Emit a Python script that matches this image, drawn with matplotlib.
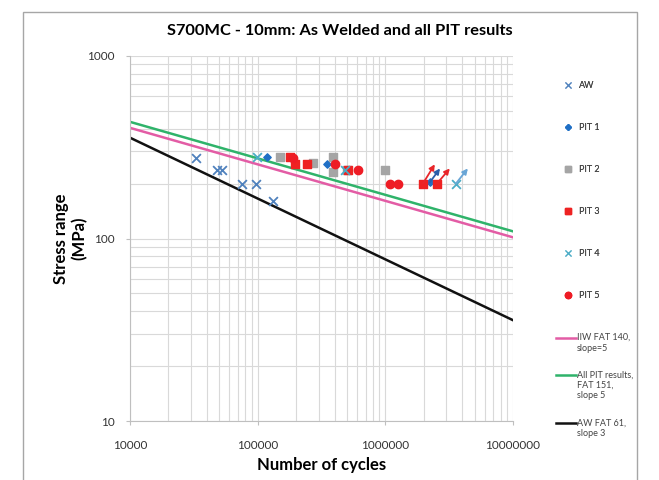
import numpy as np
import matplotlib
matplotlib.use("Agg")
import matplotlib.pyplot as plt
from matplotlib.lines import Line2D
from matplotlib.patches import Rectangle
from matplotlib.legend_handler import HandlerLine2D

plt.rcParams["font.family"] = ["Lato", "DejaVu Sans"]

# ── data ──────────────────────────────────────────────────────────────────────
aw_n = [32900, 47700, 52300, 75000, 97000, 132000]
aw_s = [275, 236, 236, 198, 198, 160]

pit1_n = [117500, 347000, 2230000]
pit1_s = [278, 257, 203]

pit2_n = [150000, 271000, 389000, 389000, 500000, 993000]
pit2_s = [280, 258, 280, 231, 236, 236]

pit3_n = [179000, 195000, 242000, 510000, 1970000, 2540000]
pit3_s = [280, 257, 257, 236, 200, 200]

pit4_n = [98000, 483000, 3570000]
pit4_s = [278, 236, 200]

pit5_n = [189000, 403000, 610000, 1090000, 1260000]
pit5_s = [275, 257, 236, 198, 198]

# run-out arrows: start and end (N, S)
arrow_start_n = [1970000, 2230000, 2540000, 3570000]
arrow_start_s = [200, 203, 200, 200]
arrow_end_n   = [2440000, 2680000, 3200000, 4430000]
arrow_end_s   = [255, 242, 242, 242]
arrow_colors  = ["#e8262a", "#2a5ea8", "#e8262a", "#6aa6d6"]

# design curves: FAT class, slope
fat_vals   = [140, 151, 61]
fat_slopes = [5, 5, 3]
fat_colors = ["#e35ca5", "#2fb36a", "#111111"]
fat_labels = ["IIW FAT 140,\nslope=5", "All PIT results,\nFAT 151,\nslope 5",
              "AW FAT 61,\nslope 3"]

xticks = [1e4, 1e5, 1e6, 1e7]
xtick_labels = ["10000", "100000", "1000000", "10000000"]
yticks = [10, 100, 1000]
ytick_labels = ["10", "100", "1000"]


class TopLineHandler(HandlerLine2D):
    """Legend line drawn level with the first text line (Excel style)."""
    def __init__(self, nlines, **kw):
        super().__init__(**kw)
        self.shift = (nlines - 1) * 4.0

    def create_artists(self, legend, orig_handle, xdescent, ydescent,
                       width, height, fontsize, trans):
        return super().create_artists(legend, orig_handle, xdescent,
                                      ydescent - 2 * self.shift, width,
                                      height, fontsize, trans)


# ── figure ────────────────────────────────────────────────────────────────────
fig = plt.figure(figsize=(6.59, 4.8), dpi=100)
fig.patches.append(Rectangle((23 / 659, -0.02), 614 / 659, 1 - 12 / 480 + 0.02,
                             transform=fig.transFigure, fill=False,
                             edgecolor="#a6a6a6", lw=1.0))
ax = fig.add_axes([130 / 659, 1 - 421 / 480, 383 / 659, 365 / 480])
ax.set_xscale("log"); ax.set_yscale("log")
ax.set_xlim(1e4, 1e7); ax.set_ylim(10, 1000)

ax.grid(which="both", color="#d9d9d9", lw=0.8)
ax.set_axisbelow(True)
for sp in ["top", "right"]:
    ax.spines[sp].set_visible(False)
for sp in ["left", "bottom"]:
    ax.spines[sp].set_color("#bfbfbf")

n_line = np.array([1e4, 1e7])
for fat, m, c in zip(fat_vals, fat_slopes, fat_colors):
    ax.plot(n_line, fat * (2e6 / n_line) ** (1 / m), color=c, lw=1.8)

ax.scatter(aw_n, aw_s, marker="x", s=40, color="#4f81bd", lw=1.3, zorder=3)
ax.scatter(pit1_n, pit1_s, marker="D", s=14, color="#1f6fc5", zorder=3)
ax.scatter(pit2_n, pit2_s, marker="s", s=36, color="#a5a5a5", zorder=3)
ax.scatter(pit3_n, pit3_s, marker="s", s=36, color="#ee2222", zorder=3)
ax.scatter(pit4_n, pit4_s, marker="x", s=40, color="#4bacc6", lw=1.3, zorder=4)
ax.scatter(pit5_n, pit5_s, marker="o", s=36, color="#ee1c25", zorder=3)

for x0, y0, x1, y1, c in zip(arrow_start_n, arrow_start_s, arrow_end_n,
                             arrow_end_s, arrow_colors):
    ax.annotate("", xy=(x1, y1), xytext=(x0, y0),
                arrowprops=dict(arrowstyle="-|>", color=c, lw=1.3,
                                mutation_scale=8, shrinkA=0, shrinkB=0),
                zorder=5)

ax.set_xticks(xticks); ax.set_xticklabels(xtick_labels)
ax.set_yticks(yticks); ax.set_yticklabels(ytick_labels)
ax.xaxis.set_minor_formatter(plt.NullFormatter())
ax.yaxis.set_minor_formatter(plt.NullFormatter())
ax.tick_params(which="major", length=3, color="#bfbfbf", labelsize=8.5,
               labelcolor="#333333")
ax.tick_params(axis="x", pad=11)
ax.tick_params(axis="y", pad=8)
ax.tick_params(which="minor", length=0)

ax.set_xlabel("Number of cycles", fontsize=12, fontweight="bold", labelpad=4)
ax.set_ylabel("Stress range\n(MPa)", fontsize=12, fontweight="bold",
              labelpad=-0.5)
fig.text(0.515, 1 - 31 / 480, "S700MC - 10mm: As Welded and all PIT results",
         ha="center", va="center", fontsize=11.8, fontweight="bold")

# ── legends ───────────────────────────────────────────────────────────────────
mk = [Line2D([], [], ls="", marker="x", ms=4, mew=0.8, color="#4f81bd"),
      Line2D([], [], ls="", marker="D", ms=3, color="#1f6fc5"),
      Line2D([], [], ls="", marker="s", ms=4, color="#a5a5a5"),
      Line2D([], [], ls="", marker="s", ms=4.5, color="#ee2222"),
      Line2D([], [], ls="", marker="x", ms=4, mew=0.8, color="#4bacc6"),
      Line2D([], [], ls="", marker="o", ms=4.5, color="#ee1c25")]
leg1 = fig.legend(mk, ["AW", "PIT 1", "PIT 2", "PIT 3", "PIT 4", "PIT 5"],
                  loc="upper left", bbox_to_anchor=(553 / 659, 1 - 73 / 480),
                  frameon=False, fontsize=6.5, labelspacing=3.66,
                  handlelength=1.6, handletextpad=0.4, labelcolor="#444444")
fig.add_artist(leg1)
ln = [Line2D([], [], color=c, lw=1.8) for c in fat_colors]
fig.legend(ln, fat_labels, loc="upper left",
           bbox_to_anchor=(548 / 659, 1 - 325 / 480), frameon=False,
           fontsize=6.5, labelspacing=2.0, handlelength=2.2,
           handletextpad=0.1, labelcolor="#444444",
           handler_map={ln[0]: TopLineHandler(2), ln[1]: TopLineHandler(3),
                        ln[2]: TopLineHandler(2)})

fig.savefig("out.png", dpi=100)
